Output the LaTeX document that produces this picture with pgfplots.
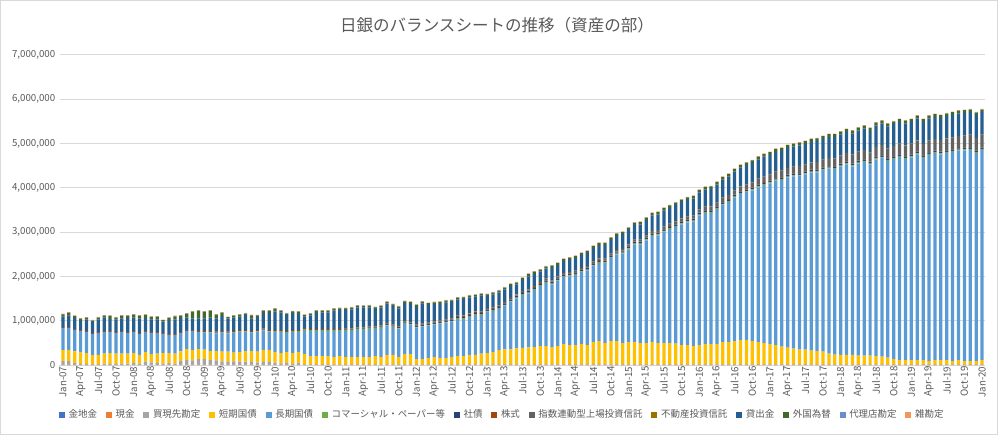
\documentclass[border=0pt]{standalone}
\usepackage{fontspec}
\setmainfont{Noto Sans CJK JP}
\usepackage{pgfplots}
\usepackage{pgfplotstable}
\pgfplotsset{compat=1.18}
\definecolor{c1}{HTML}{4472C4}
\definecolor{c2}{HTML}{ED7D31}
\definecolor{c3}{HTML}{A5A5A5}
\definecolor{c4}{HTML}{FFC000}
\definecolor{c5}{HTML}{5B9BD5}
\definecolor{c6}{HTML}{70AD47}
\definecolor{c7}{HTML}{264478}
\definecolor{c8}{HTML}{9E480E}
\definecolor{c9}{HTML}{636363}
\definecolor{c10}{HTML}{997300}
\definecolor{c11}{HTML}{255E91}
\definecolor{c12}{HTML}{43682B}
\definecolor{c13}{HTML}{698ED0}
\definecolor{c14}{HTML}{F1975A}
\definecolor{txt}{HTML}{595959}
\definecolor{grd}{HTML}{D9D9D9}
\pgfplotsset{lg/.style={legend image code/.code={\fill[##1] (0pt,-2.25pt) rectangle (4.5pt,2.25pt);}}}
\pgfplotstableread{
i gold cash repo stb ltb cp corp stock etf reit loans fx ag misc
0 4.4 2.5 83 248 499 0 0 20 0 0 233 54 1 13
1 4.4 2.5 83 248 499 0 0 20 0 0 256 69 1 13
2 4.4 2.5 38 263 484 0 0 20 0 0 248 46 1 13
3 4.4 2.5 16 271 476 0 0 20 0 0 203 54 1 13
4 4.4 2.5 16 248 476 0 0 20 0 0 263 35 1 13
5 4.4 2.5 8 210 476 0 0 20 0 0 248 35 1 13
6 4.4 2.5 1 218 499 0 0 20 0 0 286 39 1 13
7 4.4 2.5 23 226 491 0 0 20 0 0 301 46 1 13
8 4.4 2.5 16 248 476 0 0 20 0 0 271 70 1 13
9 4.4 2.5 16 233 469 0 0 20 0 0 286 39 1 13
10 4.4 2.5 23 226 491 0 0 20 0 0 278 69 1 13
11 4.4 2.5 23 226 469 0 0 20 0 0 316 54 1 13
12 4.4 2.5 38 226 476 0 0 20 0 0 301 69 1 13
13 4.4 2.5 23 196 476 0 0 20 0 0 323 70 1 13
14 4.4 2.5 68 218 454 0 0 20 0 0 293 70 1 13
15 4.4 2.5 53 188 476 0 0 20 0 0 286 54 1 13
16 4.4 2.5 38 211 469 0 0 20 0 0 286 61 1 13
17 4.4 2.5 23 241 431 0 0 20 0 0 256 35 1 13
18 4.4 2.5 38 226 409 0 0 20 0 0 293 70 1 13
19 4.4 2.5 23 226 424 0 0 20 0 0 331 69 1 13
20 4.4 2.5 83 218 416 0 0 20 0 0 316 54 1 13
21 4.4 2.5 106 248 409 0 0 20 0 0 278 91 1 13
22 4.4 2.5 98 233 431 0 0 20 0 0 256 159 1 13
23 4.4 2.5 128 226 386 0 0 20 0 0 278 182 1 13
24 4.4 2.5 128 211 385 12 4 20 0 0 278 159 1 13
25 4.4 2.5 106 203 415 12 4 20 0 0 301 159 1 13
26 4.4 2.5 98 211 400 12 4 20 0 0 293 91 1 13
27 4.4 2.5 76 218 430 12 4 20 0 0 338 76 1 13
28 4.4 2.5 61 233 415 12 4 20 0 0 293 35 1 13
29 4.4 2.5 76 196 453 12 4 20 0 0 301 46 1 13
30 4.4 2.5 68 218 460 12 4 20 0 0 301 46 1 13
31 4.4 2.5 68 241 438 12 4 20 0 0 338 35 1 13
32 4.4 2.5 61 248 415 12 4 20 0 0 278 76 1 13
33 4.4 2.5 46 248 453 12 4 20 0 0 293 35 1 13
34 4.4 2.5 61 271 445 12 4 20 0 0 353 54 1 13
35 4.4 2.5 61 271 415 12 4 20 0 0 384 54 1 13
36 4.4 2.5 46 241 455 18 3 20 0 0 414 69 1 13
37 4.4 2.5 31 233 478 18 3 20 0 0 391 46 1 13
38 4.4 2.5 38 248 433 18 3 20 0 0 361 35 1 13
39 4.4 2.5 16 248 478 18 3 20 0 0 384 35 1 13
40 4.4 2.5 46 241 455 18 3 20 0 0 361 54 1 13
41 4.4 2.5 8 233 542 18 3 20 0 0 259 39 1 13
42 4.4 2.5 0 196 564 18 3 20 0 0 312 40 1 13
43 4.4 2.5 0 196 564 18 3 20 0 0 365 54 1 13
44 4.4 2.5 0 196 564 18 3 20 0 0 380 40 1 13
45 4.4 2.5 0 196 564 18 3 20 0 0 380 40 1 13
46 4.4 2.5 0 173 587 18 3 20 0 0 418 46 1 13
47 4.4 2.5 0 196 564 18 3 20 0 0 433 40 1 13
48 4.4 2.5 0 173 587 20 15 20 1 1 417 40 1 13
49 4.4 2.5 0 173 587 20 15 20 1.5 1 432 40 1 13
50 4.4 2.5 0 173 610 20 15 20 2 1 452 40 1 13
51 4.4 2.5 0 173 610 20 15 20 2.5 1 445 40 1 13
52 4.4 2.5 0 173 632 20 15 20 3 1 430 40 1 13
53 4.4 2.5 0 196 609 20 15 20 3.5 1 392 40 1 13
54 4.4 2.5 0 173 655 20 15 20 4 1 398 40 1 13
55 4.4 2.5 0 219 661 20 15 20 5 1 436 40 1 13
56 4.4 2.5 0 219 631 20 15 20 6 1 412 40 1 13
57 4.4 2.5 0 173 640 20 15 20 6.5 1 396 40 1 13
58 4.4 2.5 0 241 677 20 15 20 7 1 411 40 1 13
59 4.4 2.5 0 241 662 20 15 20 8 1 402 46 1 13
60 4.4 2.5 0 128 707 20 25 20 9 1.2 391 47 1 13
61 4.4 2.5 0 128 730 20 25 20 10 1.2 450 40 1 13
62 4.4 2.5 0 151 729 20 25 20 10.5 1.2 391 40 1 13
63 4.4 2.5 0 173 730 20 25 20 11 1.2 389 40 1 13
64 4.4 2.5 0 151 774 20 25 20 11.5 1.2 367 46 1 13
65 4.4 2.5 0 151 797 20 25 20 12 1.2 381 40 1 13
66 4.4 2.5 0 173 798 20 25 20 12.5 1.2 365 40 1 13
67 4.4 2.5 0 196 835 20 25 20 13 1.2 364 40 1 13
68 4.4 2.5 0 196 835 20 25 20 14 1.2 371 40 1 13
69 4.4 2.5 0 219 857 20 25 20 14.5 1.2 364 40 1 13
70 4.4 2.5 0 219 902 20 25 20 15 1.2 333 40 1 13
71 4.4 2.5 0 249 872 20 25 20 16 1.2 354 40 1 13
72 4.4 2.5 0 264 932 20 30 15 17 2 270 40 1 14
73 4.4 2.5 0 286 925 20 30 15 18 2 291 40 1 14
74 4.4 2.5 0 331 925 20 30 15 19 2 290 40 1 14
75 4.4 2.5 0 346 986 20 30 15 20 2 281 40 1 14
76 4.4 2.5 0 346 1076 20 30 15 21 2 265 46 1 14
77 4.4 2.5 0 369 1128 20 30 15 22 2 227 40 1 14
78 4.4 2.5 0 377 1195 20 30 15 22 2 246 50 1 14
79 4.4 2.5 0 392 1218 20 30 15 23 2 297 50 1 14
80 4.4 2.5 0 399 1286 20 30 15 24 2 274 50 1 14
81 4.4 2.5 0 422 1353 20 30 15 25 2 232 46 1 14
82 4.4 2.5 0 422 1428 20 30 15 25 2 225 50 1 14
83 4.4 2.5 0 399 1414 20 30 15 26 2 281 48 1 14
84 4.4 2.5 0 422 1476 20 30 15 27 2 255 48 1 14
85 4.4 2.5 0 467 1510 20 30 15 28 2 265 48 1 14
86 4.4 2.5 0 444 1552 20 30 15 29 2 275 48 1 14
87 4.4 2.5 0 444 1584 20 30 15 30 2 280 48 1 14
88 4.4 2.5 0 467 1623 20 30 15 31 2 285 48 1 14
89 4.4 2.5 0 444 1685 20 30 15 32 2 290 48 1 14
90 4.4 2.5 0 512 1724 20 30 15 33 2 295 48 1 14
91 4.4 2.5 0 534 1763 20 30 15 34 2 300 48 1 14
92 4.4 2.5 0 489 1802 20 30 15 35 2 305 48 1 14
93 4.4 2.5 0 534 1871 20 30 15 37 2 310 48 1 14
94 4.4 2.5 0 534 1955 20 30 15 38 2 315 48 1 14
95 4.4 2.5 0 489 2020 20 30 15 40 2 330 48 1 14
96 4.4 2.5 0 512 2093 22 32 13 42 3 320 55 1 14
97 4.4 2.5 0 512 2199 22 32 13 44 3 325 55 1 14
98 4.4 2.5 0 489 2225 22 32 13 46 3 335 55 1 14
99 4.4 2.5 0 489 2316 22 32 13 48 3 340 55 1 14
100 4.4 2.5 0 512 2391 22 32 13 50 3 345 55 1 14
101 4.4 2.5 0 489 2430 22 32 13 52 3 350 55 1 14
102 4.4 2.5 0 489 2513 22 32 13 54 3 355 55 1 14
103 4.4 2.5 0 489 2571 22 32 13 56 3 355 55 1 14
104 4.4 2.5 0 474 2637 22 32 13 60 3 360 55 1 14
105 4.4 2.5 0 444 2727 22 32 13 63 3 365 55 1 14
106 4.4 2.5 0 444 2772 22 32 13 66 3 370 55 1 14
107 4.4 2.5 0 422 2810 22 32 13 70 3 380 55 1 14
108 4.4 2.5 0 444 2925 22 32 13 73 3 375 55 1 14
109 4.4 2.5 0 467 2957 22 32 13 76 3 385 55 1 14
110 4.4 2.5 0 467 2958 22 32 13 80 3 395 55 1 14
111 4.4 2.5 0 467 3047 22 32 13 84 3 400 55 1 14
112 4.4 2.5 0 512 3100 22 32 13 88 3 410 55 1 14
113 4.4 2.5 0 512 3158 22 32 13 93 3 415 55 1 14
114 4.4 2.5 0 534 3239 22 32 13 98 3 420 55 1 14
115 4.4 2.5 0 557 3295 22 32 13 104 3 425 55 1 14
116 4.4 2.5 0 557 3337 22 32 13 110 3 430 55 1 14
117 4.4 2.5 0 534 3401 22 32 13 116 3 435 55 1 14
118 4.4 2.5 0 512 3494 22 32 13 123 3 440 55 1 14
119 4.4 2.5 0 489 3565 22 32 13 130 3 445 55 1 14
120 4.4 2.5 0 467 3629 22 32 11 134 4 440 60 1 14
121 4.4 2.5 0 444 3711 22 32 11 138 4 445 60 1 14
122 4.4 2.5 0 407 3762 22 32 11 142 4 450 60 1 14
123 4.4 2.5 0 384 3843 22 32 11 146 4 455 60 1 14
124 4.4 2.5 0 361 3892 22 32 11 150 4 455 60 1 14
125 4.4 2.5 0 339 3928 22 32 11 154 4 460 60 1 14
126 4.4 2.5 0 339 3959 22 32 11 158 4 462 60 1 14
127 4.4 2.5 0 316 4021 22 32 11 162 4 465 60 1 14
128 4.4 2.5 0 309 4034 22 32 11 166 4 470 60 1 14
129 4.4 2.5 0 294 4097 22 32 11 170 4 470 60 1 14
130 4.4 2.5 0 249 4177 22 32 11 175 4 475 60 1 14
131 4.4 2.5 0 226 4190 22 32 11 180 4 480 60 1 14
132 4.4 2.5 0 219 4256 22 32 11 184 4 470 60 1 14
133 4.4 2.5 0 219 4306 22 32 11 189 4 475 60 1 14
134 4.4 2.5 0 219 4259 22 32 11 194 4 480 60 1 14
135 4.4 2.5 0 204 4338 22 32 11 199 4 478 60 1 14
136 4.4 2.5 0 204 4374 22 32 11 204 4 482 60 1 14
137 4.4 2.5 0 204 4314 22 32 11 209 4 485 60 1 14
138 4.4 2.5 0 196 4442 22 32 11 214 4 480 60 1 14
139 4.4 2.5 0 181 4492 22 32 11 219 4 485 60 1 14
140 4.4 2.5 0 158 4440 22 32 11 224 4 488 60 1 14
141 4.4 2.5 0 128 4515 22 32 11 229 4 490 60 1 14
142 4.4 2.5 0 106 4582 22 32 11 235 4 492 60 1 14
143 4.4 2.5 0 106 4536 22 32 11 240 4 495 60 1 14
144 4.4 2.5 0 106 4577 22 32 9 243 5 490 60 1 14
145 4.4 2.5 0 106 4644 22 32 9 246 5 495 60 1 14
146 4.4 2.5 0 106 4563 22 32 9 249 5 498 60 1 14
147 4.4 2.5 0 83 4656 22 32 9 252 5 500 60 1 14
148 4.4 2.5 0 106 4671 22 32 9 255 5 497 60 1 14
149 4.4 2.5 0 106 4642 22 32 9 258 5 500 60 1 14
150 4.4 2.5 0 106 4675 22 32 9 261 5 502 60 1 14
151 4.4 2.5 0 83 4722 22 32 9 264 5 505 60 1 14
152 4.4 2.5 0 106 4727 22 32 9 268 5 503 60 1 14
153 4.4 2.5 0 83 4759 22 32 9 272 5 505 60 1 14
154 4.4 2.5 0 83 4768 22 32 9 276 5 507 60 1 14
155 4.4 2.5 0 83 4693 22 32 9 280 5 510 60 1 14
156 4.4 2.5 0 106 4739 22 32 9 284 5 505 60 1 14
}\data
\begin{document}
\begin{tikzpicture}
\useasboundingbox (0pt,0pt) rectangle (748.5pt,326.25pt);
\draw[grd, line width=0.75pt] (0.5pt,0.5pt) rectangle (748pt,325.75pt);
\node[txt, font=\fontsize{12.4}{14}\selectfont] at (372.75pt,307.5pt) {日銀のバランスシートの推移（資産の部）};
\begin{axis}[
  at={(45pt,52.5pt)}, anchor=south west,
  scale only axis, width=693.75pt, height=232.5pt,
  ybar stacked, bar width=0.55,
  xmin=-0.5, xmax=156.5, ymin=0, ymax=7000000,
  axis x line*=bottom, axis y line*=left,
  x axis line style={draw=grd, line width=0.75pt},
  y axis line style={draw=none},
  ymajorgrids, grid style={draw=grd, line width=0.75pt},
  ytick={0,1000000,...,7000000},
  scaled y ticks=false,
  yticklabel style={/pgf/number format/.cd, fixed, 1000 sep={,}, assume math mode=true},
  ticklabel style={txt, font=\fontsize{7.3}{8}\selectfont},
  xtick={0,3,...,156},
  xticklabels={Jan-07,Apr-07,Jul-07,Oct-07,Jan-08,Apr-08,Jul-08,Oct-08,Jan-09,Apr-09,Jul-09,Oct-09,Jan-10,Apr-10,Jul-10,Oct-10,Jan-11,Apr-11,Jul-11,Oct-11,Jan-12,Apr-12,Jul-12,Oct-12,Jan-13,Apr-13,Jul-13,Oct-13,Jan-14,Apr-14,Jul-14,Oct-14,Jan-15,Apr-15,Jul-15,Oct-15,Jan-16,Apr-16,Jul-16,Oct-16,Jan-17,Apr-17,Jul-17,Oct-17,Jan-18,Apr-18,Jul-18,Oct-18,Jan-19,Apr-19,Jul-19,Oct-19,Jan-20},
  x tick label style={rotate=90, anchor=east, inner sep=1pt},
  minor xtick={-0.5,2.5,...,156.5},
  major tick length=0pt, minor tick length=3pt, tick align=outside,
  minor tick style={draw=grd, line width=0.75pt},
  xminorgrids=false,
  legend columns=14,
  legend style={at={(-0.0015,-0.161)}, anchor=west, draw=none, fill=none, inner sep=0pt,
    nodes={inner sep=1pt},
    font=\fontsize{7.1}{8}\selectfont, text=txt,
    /tikz/every odd column/.append style={column sep=1.8pt},
    /tikz/every even column/.append style={column sep=5.6pt}},
]
\addplot[fill=c1, draw=none, lg] table[x=i, y expr=\thisrow{gold}*1000]{\data};
\addplot[fill=c2, draw=none, lg] table[x=i, y expr=\thisrow{cash}*1000]{\data};
\addplot[fill=c3, draw=none, lg] table[x=i, y expr=\thisrow{repo}*1000]{\data};
\addplot[fill=c4, draw=none, lg] table[x=i, y expr=\thisrow{stb}*1000]{\data};
\addplot[fill=c5, draw=none, lg] table[x=i, y expr=\thisrow{ltb}*1000]{\data};
\addplot[fill=c6, draw=none, lg] table[x=i, y expr=\thisrow{cp}*1000]{\data};
\addplot[fill=c7, draw=none, lg] table[x=i, y expr=\thisrow{corp}*1000]{\data};
\addplot[fill=c8, draw=none, lg] table[x=i, y expr=\thisrow{stock}*1000]{\data};
\addplot[fill=c9, draw=none, lg] table[x=i, y expr=\thisrow{etf}*1000]{\data};
\addplot[fill=c10, draw=none, lg] table[x=i, y expr=\thisrow{reit}*1000]{\data};
\addplot[fill=c11, draw=none, lg] table[x=i, y expr=\thisrow{loans}*1000]{\data};
\addplot[fill=c12, draw=none, lg] table[x=i, y expr=\thisrow{fx}*1000]{\data};
\addplot[fill=c13, draw=none, lg] table[x=i, y expr=\thisrow{ag}*1000]{\data};
\addplot[fill=c14, draw=none, lg] table[x=i, y expr=\thisrow{misc}*1000]{\data};
\legend{金地金,現金,買現先勘定,短期国債,長期国債,コマーシャル・ペーパー等,社債,株式,指数連動型上場投資信託,不動産投資信託,貸出金,外国為替,代理店勘定,雑勘定}
\end{axis}
\end{tikzpicture}
\end{document}
